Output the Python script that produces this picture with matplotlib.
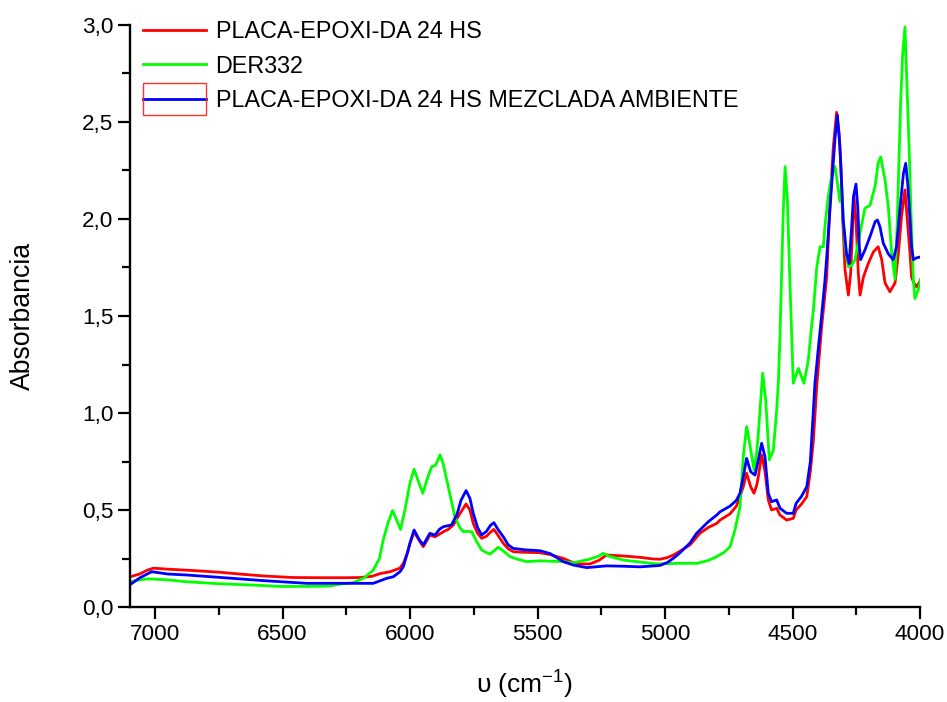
import matplotlib
matplotlib.use("Agg")
import matplotlib.pyplot as plt
from matplotlib.ticker import MultipleLocator, FuncFormatter
from matplotlib.patches import Rectangle

plt.rcParams["font.family"] = ["Liberation Sans", "DejaVu Sans"]
plt.rcParams["mathtext.fontset"] = "custom"
plt.rcParams["mathtext.rm"] = "Liberation Sans"
plt.rcParams["mathtext.it"] = "Liberation Sans:italic"

# NIR spectra: wavenumber (cm-1) and absorbance
placa_wn = [7100, 7060, 7030, 7006, 6950, 6850, 6745, 6650, 6575, 6459, 6350, 6250,
            6196, 6150, 6118, 6078, 6040, 6026, 6010, 6000, 5984, 5965, 5948, 5935,
            5922, 5902, 5885, 5869, 5850, 5830, 5805, 5780, 5765, 5752, 5735, 5719,
            5700, 5685, 5671, 5655, 5634, 5615, 5595, 5550, 5490, 5450, 5400, 5359,
            5333, 5294, 5260, 5229, 5163, 5098, 5050, 5020, 4990, 4967, 4941, 4902,
            4876, 4863, 4830, 4797, 4784, 4745, 4720, 4706, 4693, 4680, 4664, 4651,
            4640, 4634, 4621, 4608, 4595, 4582, 4570, 4562, 4549, 4523, 4497, 4486,
            4465, 4444, 4430, 4418, 4405, 4386, 4366, 4353, 4340, 4327, 4317, 4310,
            4303, 4294, 4281, 4272, 4264, 4259, 4251, 4242, 4235, 4222, 4203, 4183,
            4164, 4150, 4137, 4118, 4098, 4085, 4072, 4059, 4050, 4039, 4033, 4024,
            4013, 4000, 3993]
placa_abs = [0.155, 0.17, 0.19, 0.20, 0.195, 0.188, 0.179, 0.168, 0.16, 0.152, 0.151, 0.151,
             0.152, 0.158, 0.172, 0.182, 0.20, 0.225, 0.28, 0.328, 0.388, 0.345, 0.311, 0.34,
             0.371, 0.362, 0.375, 0.388, 0.40, 0.423, 0.48, 0.531, 0.50, 0.431, 0.38, 0.354,
             0.365, 0.385, 0.40, 0.37, 0.328, 0.30, 0.285, 0.282, 0.28, 0.27, 0.251, 0.228,
             0.222, 0.222, 0.24, 0.268, 0.263, 0.256, 0.248, 0.246, 0.255, 0.268, 0.288, 0.32,
             0.36, 0.38, 0.41, 0.431, 0.448, 0.48, 0.52, 0.569, 0.62, 0.69, 0.62, 0.586,
             0.63, 0.672, 0.784, 0.70, 0.552, 0.50, 0.505, 0.509, 0.474, 0.448, 0.457, 0.50,
             0.53, 0.569, 0.70, 0.86, 1.136, 1.44, 1.70, 2.08, 2.37, 2.55, 2.44, 2.27,
             1.995, 1.737, 1.608, 1.72, 1.96, 2.115, 1.995, 1.72, 1.608, 1.70, 1.77, 1.83,
             1.857, 1.79, 1.67, 1.625, 1.67, 1.82, 2.02, 2.15, 2.0, 1.82, 1.70, 1.67,
             1.65, 1.68, 1.70]

der_wn = [7100, 7060, 7027, 6950, 6876, 6750, 6614, 6510, 6400, 6314, 6275, 6223,
          6180, 6144, 6120, 6105, 6085, 6068, 6050, 6037, 6020, 6000, 5984, 5965,
          5950, 5930, 5915, 5900, 5882, 5870, 5856, 5840, 5824, 5805, 5791, 5775,
          5758, 5740, 5719, 5700, 5686, 5670, 5654, 5635, 5608, 5575, 5542, 5490,
          5450, 5399, 5359, 5300, 5260, 5242, 5220, 5163, 5100, 5033, 4950, 4874,
          4830, 4797, 4770, 4745, 4725, 4706, 4693, 4680, 4670, 4651, 4640, 4634,
          4617, 4605, 4591, 4575, 4562, 4555, 4549, 4542, 4536, 4529, 4520, 4510,
          4503, 4497, 4477, 4455, 4438, 4425, 4418, 4405, 4392, 4379, 4373, 4360,
          4347, 4333, 4320, 4314, 4307, 4301, 4294, 4281, 4268, 4255, 4235, 4216,
          4196, 4176, 4164, 4154, 4137, 4124, 4111, 4098, 4089, 4081, 4076, 4068,
          4059, 4052, 4042, 4033, 4026, 4020, 4007, 3993]
der_abs = [0.13, 0.14, 0.145, 0.14, 0.13, 0.12, 0.113, 0.106, 0.106, 0.108, 0.118, 0.125,
           0.15, 0.19, 0.25, 0.345, 0.44, 0.497, 0.44, 0.40, 0.50, 0.64, 0.71, 0.64,
           0.586, 0.67, 0.723, 0.73, 0.784, 0.74, 0.655, 0.56, 0.465, 0.41, 0.388, 0.39,
           0.388, 0.34, 0.294, 0.28, 0.273, 0.29, 0.308, 0.29, 0.26, 0.245, 0.234, 0.238,
           0.236, 0.234, 0.228, 0.245, 0.262, 0.277, 0.262, 0.242, 0.232, 0.222, 0.225, 0.225,
           0.24, 0.26, 0.28, 0.31, 0.40, 0.517, 0.775, 0.93, 0.86, 0.706, 0.80, 0.895,
           1.205, 1.067, 0.758, 0.81, 1.015, 1.17, 1.40, 1.75, 2.05, 2.27, 2.10, 1.67,
           1.40, 1.153, 1.23, 1.153, 1.273, 1.45, 1.53, 1.75, 1.857, 1.857, 1.96, 2.115,
           2.218, 2.27, 2.15, 2.09, 2.17, 1.995, 1.857, 1.754, 1.76, 1.79, 1.93, 2.055,
           2.07, 2.17, 2.29, 2.32, 2.20, 2.06, 1.82, 1.69, 1.995, 2.37, 2.60, 2.85,
           2.99, 2.72, 2.34, 1.93, 1.686, 1.59, 1.634, 1.71]

mezcla_wn = [7100, 7060, 7013, 6950, 6876, 6750, 6576, 6405, 6300, 6223, 6144, 6091,
             6065, 6039, 6026, 6010, 6000, 5984, 5965, 5948, 5935, 5922, 5902, 5885,
             5869, 5837, 5815, 5800, 5780, 5765, 5752, 5735, 5719, 5700, 5685, 5671,
             5655, 5634, 5615, 5595, 5550, 5490, 5450, 5399, 5359, 5307, 5229, 5160,
             5098, 5020, 4990, 4967, 4941, 4902, 4876, 4863, 4830, 4797, 4784, 4745,
             4720, 4706, 4693, 4680, 4664, 4647, 4634, 4621, 4608, 4595, 4582, 4562,
             4549, 4523, 4497, 4486, 4465, 4444, 4430, 4425, 4412, 4399, 4386, 4373,
             4366, 4347, 4333, 4324, 4314, 4307, 4301, 4288, 4278, 4268, 4261, 4251,
             4244, 4238, 4233, 4216, 4196, 4176, 4167, 4157, 4144, 4124, 4105, 4092,
             4078, 4065, 4056, 4048, 4039, 4033, 4026, 4013, 3993]
mezcla_abs = [0.113, 0.15, 0.182, 0.17, 0.165, 0.153, 0.136, 0.122, 0.122, 0.122, 0.122, 0.148,
              0.156, 0.182, 0.208, 0.28, 0.33, 0.397, 0.35, 0.32, 0.35, 0.38, 0.37, 0.40,
              0.414, 0.423, 0.48, 0.55, 0.60, 0.56, 0.483, 0.41, 0.371, 0.39, 0.42, 0.435,
              0.40, 0.362, 0.32, 0.302, 0.295, 0.29, 0.275, 0.234, 0.216, 0.203, 0.212, 0.21,
              0.207, 0.214, 0.23, 0.251, 0.28, 0.33, 0.38, 0.397, 0.44, 0.474, 0.491, 0.52,
              0.55, 0.586, 0.672, 0.766, 0.697, 0.68, 0.758, 0.844, 0.775, 0.586, 0.543, 0.552,
              0.509, 0.483, 0.483, 0.534, 0.57, 0.62, 0.75, 0.86, 1.153, 1.33, 1.50, 1.68,
              1.80, 2.167, 2.42, 2.536, 2.37, 2.167, 1.995, 1.82, 1.77, 1.96, 2.115, 2.18,
              2.06, 1.857, 1.79, 1.84, 1.91, 1.986, 1.995, 1.96, 1.875, 1.82, 1.79, 1.857,
              2.06, 2.235, 2.287, 2.18, 1.995, 1.857, 1.79, 1.80, 1.806]

series_labels = ["PLACA-EPOXI-DA 24 HS", "DER332",
                 "PLACA-EPOXI-DA 24 HS MEZCLADA AMBIENTE"]
series_colors = ["#ff0000", "#00ff00", "#0000ff"]

W, H = 947, 702
fig = plt.figure(figsize=(W / 100, H / 100), dpi=100)
ax = fig.add_axes([129.5 / W, 1 - 607 / H, (920 - 129.5) / W, (607 - 25) / H])

for wn, ab, lab, col in zip([placa_wn, der_wn, mezcla_wn],
                            [placa_abs, der_abs, mezcla_abs],
                            series_labels, series_colors):
    ax.plot(wn, ab, color=col, lw=2.0, label=lab, solid_joinstyle="round")

ax.set_xlim(7100, 4000)
ax.set_ylim(0, 3.0)
ax.xaxis.set_major_locator(MultipleLocator(500))
ax.xaxis.set_minor_locator(MultipleLocator(250))
ax.yaxis.set_major_locator(MultipleLocator(0.5))
ax.yaxis.set_minor_locator(MultipleLocator(0.25))
ax.yaxis.set_major_formatter(FuncFormatter(lambda v, p: f"{v:.1f}".replace(".", ",")))
ax.xaxis.set_major_formatter(FuncFormatter(lambda v, p: f"{v:.0f}"))

for side in ("top", "right"):
    ax.spines[side].set_visible(False)
for side in ("left", "bottom"):
    ax.spines[side].set_linewidth(1.7)

ax.tick_params(which="major", direction="out", length=8.6, width=1.6,
               labelsize=16.2, color="black")
ax.tick_params(which="minor", direction="out", length=5.6, width=1.6)
ax.tick_params(axis="x", which="major", pad=4.0)
ax.tick_params(axis="y", which="major", pad=3.0)

ax.set_ylabel("Absorbancia", fontsize=19.2)
ax.yaxis.set_label_coords(-(129.5 - 23) / (920 - 129.5), 0.5)
ax.set_xlabel("\u03c5 (cm$^{\\mathregular{-1}}$)", fontsize=19)
ax.xaxis.set_label_coords(0.5, -(685 - 607) / (607 - 25))
ax.xaxis.label.set_va("center")
ax.yaxis.label.set_va("center")

leg = ax.legend(loc="upper left", bbox_to_anchor=(13.5 / 790.5, 1.008),
                frameon=False, fontsize=16.8, handlelength=2.72,
                handletextpad=0.39, labelspacing=0.48, borderpad=0,
                borderaxespad=0)

# red frame around the third legend key
fig.canvas.draw()
hb = leg.legend_handles[2].get_window_extent(fig.canvas.get_renderer())
cy = 0.5 * (hb.y0 + hb.y1)
x0, x1 = hb.x0, hb.x1
frame = Rectangle((x0 / W, (cy - 16) / H), (x1 - x0) / W, 32 / H,
                  transform=fig.transFigure, fill=False, edgecolor="#ff3030",
                  lw=1.0)
fig.patches.append(frame)

fig.savefig("out.png", dpi=100)
